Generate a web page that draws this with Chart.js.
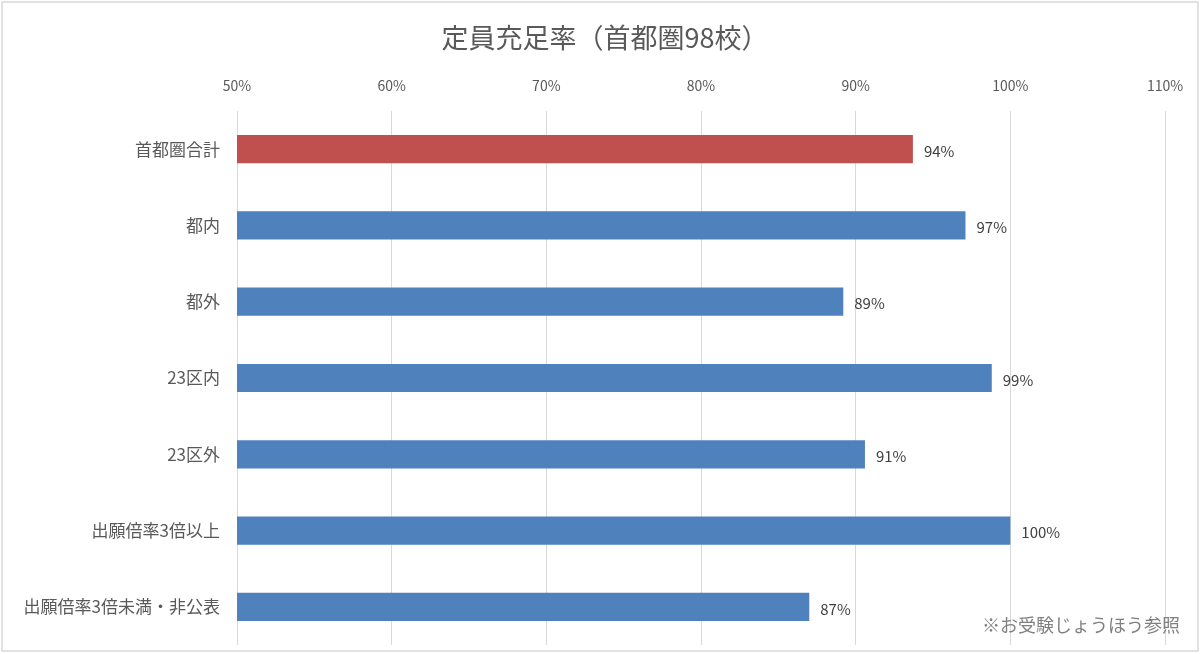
<!DOCTYPE html>
<html lang="ja">
<head>
<meta charset="utf-8">
<title>定員充足率（首都圏98校）</title>
<script src="https://cdn.jsdelivr.net/npm/chart.js@4"></script>
<style>
  html, body { margin: 0; padding: 0; background: #fff; }
  #wrap { position: relative; width: 1200px; height: 654px; }
</style>
</head>
<body>
<div id="wrap"><canvas id="chart"></canvas></div>
<script>
// --- データ ---
const categories = ["首都圏合計", "都内", "都外", "23区内", "23区外", "出願倍率3倍以上", "出願倍率3倍未満・非公表"];
const fillRates = [93.7, 97.1, 89.2, 98.8, 90.6, 100.0, 87.0];
const tickValues = [50, 60, 70, 80, 90, 100, 110];
const chartTitle = "定員充足率（首都圏98校）";
const sourceNote = "※お受験じょうほう参照";

const FONT = "'Noto Sans CJK JP', 'Noto Sans', sans-serif";
const RED = "#C0504D";
const BLUE = "#4F81BD";

// 外枠・タイトル・出典テキスト
const framePlugin = {
  id: "frame",
  beforeDraw(chart) {
    const c = chart.ctx;
    c.save();
    c.fillStyle = "#fff";
    c.fillRect(0, 0, chart.width, chart.height);
    c.strokeStyle = "#d9d9d9";
    c.lineWidth = 1.5;
    c.strokeRect(2, 2, chart.width - 4, chart.height - 5);
    c.restore();
  },
  afterDraw(chart) {
    const c = chart.ctx;
    c.save();
    c.font = "27px " + FONT;
    c.fillStyle = "#595959";
    c.textAlign = "center";
    c.textBaseline = "middle";
    c.fillText(chartTitle, 605, 38);
    c.font = "18px " + FONT;
    c.fillStyle = "#808080";
    c.textAlign = "right";
    c.fillText(sourceNote, 1180, 625);
    c.restore();
  }
};

// バーの右にラベル
const valueLabels = {
  id: "valueLabels",
  afterDatasetsDraw(chart) {
    const c = chart.ctx;
    const meta = chart.getDatasetMeta(0);
    c.save();
    c.font = "15px " + FONT;
    c.fillStyle = "#404040";
    c.textAlign = "left";
    c.textBaseline = "middle";
    meta.data.forEach((bar, i) => {
      c.fillText(Math.round(fillRates[i]) + "%", bar.x + 11, bar.y + 2);
    });
    c.restore();
  }
};

new Chart(document.getElementById("chart"), {
  type: "bar",
  data: {
    labels: categories,
    datasets: [{
      data: fillRates,
      backgroundColor: categories.map((_, i) => (i === 0 ? RED : BLUE)),
      borderWidth: 0,
      barPercentage: 0.37,
      categoryPercentage: 1.0
    }]
  },
  options: {
    indexAxis: "y",
    responsive: true,
    maintainAspectRatio: false,
    animation: false,
    layout: { padding: { left: 0, right: 35, top: 64, bottom: 9 } },
    plugins: {
      legend: { display: false },
      tooltip: { enabled: false },
      title: { display: false }
    },
    scales: {
      x: {
        position: "top",
        min: 50,
        max: 110,
        afterBuildTicks: (axis) => { axis.ticks = tickValues.map(v => ({ value: v })); },
        afterFit: (axis) => { axis.height = 47; axis.paddingLeft = 0; axis.paddingRight = 0; },
        ticks: {
          color: "#595959",
          padding: 17,
          font: { family: FONT, size: 14 },
          callback: (v) => v + "%"
        },
        grid: { color: "#d9d9d9", lineWidth: 1, drawTicks: false },
        border: { display: false }
      },
      y: {
        afterFit: (axis) => { axis.width = 237; axis.paddingTop = 0; axis.paddingBottom = 0; },
        ticks: {
          color: "#595959",
          padding: 9,
          font: { family: FONT, size: 17 }
        },
        grid: { display: false },
        border: { display: false }
      }
    }
  },
  plugins: [framePlugin, valueLabels]
});
</script>
</body>
</html>
